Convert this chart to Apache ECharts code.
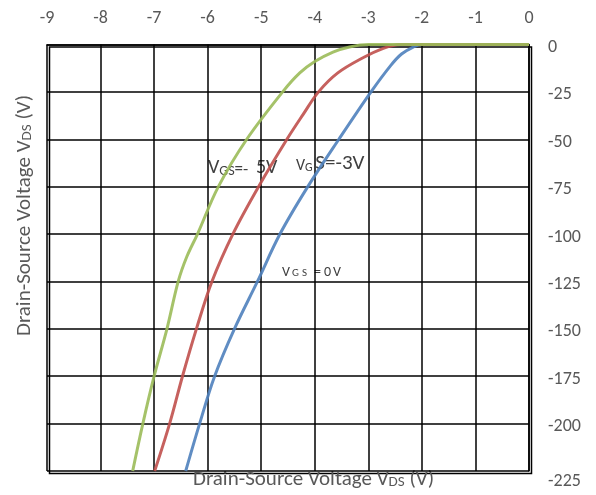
<!DOCTYPE html>
<html><head><meta charset="utf-8">
<script src="https://cdn.jsdelivr.net/npm/echarts@6/dist/echarts.min.js"></script>
<style>html,body{margin:0;padding:0;background:#fff}#c{width:596px;height:495px}</style>
</head><body><div id="c"></div>
<script>
const xTicks = [-9,-8,-7,-6,-5,-4,-3,-2,-1,0];
const yTicks = [0,-25,-50,-75,-100,-125,-150,-175,-200,-225];
const vgsNeg5 = [[-7.40,-225],[-7.21,-200],[-7.0,-175],[-6.76,-150],[-6.55,-125],[-6.39,-112],[-6.19,-100],[-5.80,-75],[-5.27,-50],[-4.6,-25],[-4.28,-15],[-4.0,-9],[-3.66,-4],[-3.35,-1.3],[-3.0,0],[0,0]];
const vgsNeg3 = [[-6.99,-225],[-6.71,-200],[-6.47,-175],[-6.21,-150],[-5.92,-125],[-5.53,-100],[-5.05,-75],[-4.52,-50],[-4.22,-37],[-3.93,-25],[-3.57,-15],[-3.1,-7],[-2.72,-2],[-2.4,0],[0,0]];
const vgs0 = [[-6.41,-225],[-6.15,-200],[-5.87,-175],[-5.50,-150],[-5.07,-125],[-4.65,-100],[-4.13,-75],[-3.55,-50],[-2.95,-25],[-2.58,-11],[-2.38,-5],[-2.17,-1.5],[-2.0,0],[0,0]];
const seriesNames = ['VGS=-5V','VGS=-3V','VGS=0V'];

const FONT = 'Carlito, Lato, "Liberation Sans", sans-serif';
const chart = echarts.init(document.getElementById('c'));
const lineS = (name, data, color) => ({
  name, type:'line', data, smooth:0.35, symbol:'none',
  lineStyle:{color, width:3, opacity:0.9}
});
const tk = (size, extra) => Object.assign({fontSize:size, fill:'#404040', fontFamily:FONT, lineHeight:22, verticalAlign:'bottom'}, extra||{});
chart.setOption({
  animation:false,
  grid:{left:47, right:67, top:44.5, bottom:24},
  xAxis:{type:'value', position:'top', min:-9, max:0, interval:1,
    axisLine:{show:true, onZero:false, lineStyle:{color:'#000', width:1.5}},
    axisTick:{show:false},
    axisLabel:{color:'#595959', fontSize:18, fontFamily:FONT, margin:17},
    splitLine:{show:true, lineStyle:{color:'#000', width:1.5}}},
  yAxis:{type:'value', position:'right', min:-225, max:0, interval:25,
    axisLine:{show:true, onZero:false, lineStyle:{color:'#000', width:1.5}},
    axisTick:{show:false},
    axisLabel:{color:'#595959', fontSize:18, fontFamily:FONT, margin:19,
      formatter: v => v === -225 ? '{e|' + v + '}' : '{n|' + v + '}',
      rich:{n:{fontSize:18, fontFamily:FONT, color:'#595959', padding:[6,0,0,0]},
            e:{fontSize:18, fontFamily:FONT, color:'#595959', padding:[20,0,0,0]}}},
    splitLine:{show:true, lineStyle:{color:'#000', width:1.5}}},
  series:[
    lineS(seriesNames[2], vgs0, '#4F81BD'),
    lineS(seriesNames[1], vgsNeg3, '#C0504D'),
    lineS(seriesNames[0], vgsNeg5, '#9BBB59')
  ],
  graphic:[
    {type:'rect', left:47, top:44.5, shape:{width:482, height:426.5}, style:{fill:'none', stroke:'#000', lineWidth:1.5}, silent:true, z:0},
    {type:'text', left:193, top:469, style:{text:'{a|Drain-Source Voltage V}{s|DS}{a| (V)}', rich:{a:{fontSize:21, fill:'#595959', fontFamily:FONT, lineHeight:24, verticalAlign:'bottom'}, s:{fontSize:15, fill:'#595959', fontFamily:FONT, lineHeight:24, verticalAlign:'bottom'}}}},
    {type:'text', x:11, y:336, rotation:Math.PI/2, style:{text:'{a|Drain-Source Voltage V}{s|DS}{a| (V)}', rich:{a:{fontSize:21, fill:'#595959', fontFamily:FONT, lineHeight:24, verticalAlign:'bottom'}, s:{fontSize:15, fill:'#595959', fontFamily:FONT, lineHeight:24, verticalAlign:'bottom'}}}},
    {type:'text', left:208, top:158, style:{text:'{a|V}{s|GS}{b|=-  }{a|5V}', rich:{a:tk(20), s:tk(14), b:tk(17)}}},
    {type:'text', left:296, top:153, style:{text:'{s|V}{t|G }{a|S=-3V}', rich:{a:tk(21), s:tk(16), t:tk(12)}}},
    {type:'text', left:282, top:265, style:{text:'{a|V}{s|G}{s|S}{g|=}{a|0}{a|V}', rich:{a:tk(14,{padding:[0,2,0,0]}), s:tk(11,{padding:[0,3,0,0]}), g:tk(14,{padding:[0,3,0,4]})}}}
  ]
});
</script></body></html>
